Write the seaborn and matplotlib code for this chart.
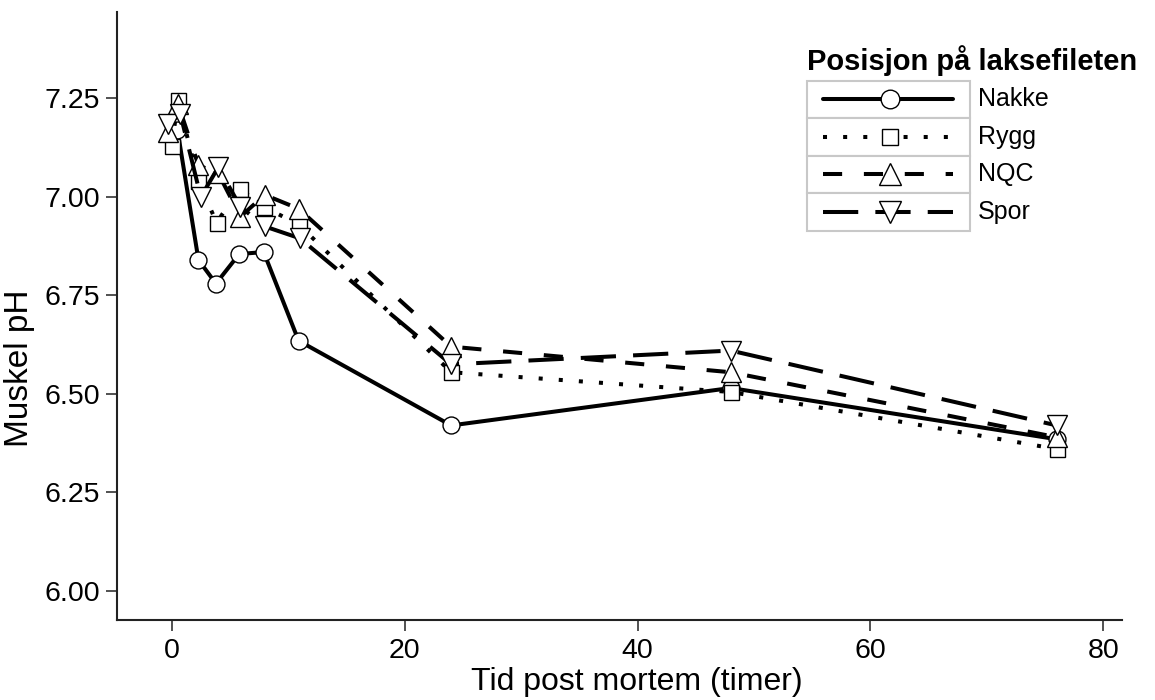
import matplotlib
matplotlib.use("Agg")
import matplotlib.pyplot as plt
from matplotlib.patches import Rectangle
from matplotlib.lines import Line2D
import seaborn as sns
import pandas as pd

# ---- data ----
series_names = ["Nakke", "Rygg", "NQC", "Spor"]

nakke_t = [0.5, 2.3, 3.8, 5.8, 7.9, 10.9, 24, 48, 76]
nakke_ph = [7.17, 6.84, 6.78, 6.855, 6.86, 6.635, 6.42, 6.515, 6.385]

rygg_t = [0.0, 0.55, 2.3, 3.85, 5.85, 7.9, 10.9, 24, 48, 76]
rygg_ph = [7.13, 7.245, 7.04, 6.935, 7.02, 6.975, 6.93, 6.555, 6.505, 6.36]

nqc_t = [-0.3, 0.55, 2.3, 4.0, 5.9, 8.0, 10.9, 24, 48, 76]
nqc_ph = [7.165, 7.235, 7.08, 7.06, 6.95, 7.005, 6.97, 6.62, 6.555, 6.39]

spor_t = [-0.35, 0.75, 2.5, 4.0, 5.9, 8.0, 11.0, 24, 48, 76]
spor_ph = [7.185, 7.21, 7.0, 7.075, 6.975, 6.925, 6.895, 6.575, 6.61, 6.42]

y_ticks = [6.00, 6.25, 6.50, 6.75, 7.00, 7.25]
x_ticks = [0, 20, 40, 60, 80]

legend_title = "Posisjon på laksefileten"
x_label = "Tid post mortem (timer)"
y_label = "Muskel pH"

# ---- styles ----
sns.set_style("ticks")
plt.rcParams["font.family"] = ["Liberation Sans", "DejaVu Sans"]
plt.rcParams["text.color"] = "black"
plt.rcParams["axes.labelcolor"] = "black"

W, H = 1155, 700
fig = plt.figure(figsize=(W / 100, H / 100), dpi=100)
ax = fig.add_axes([116.7 / W, 1 - 619.7 / H, (1122 - 116.7) / W, (619.7 - 11.7) / H])

lw = 2.9
styles = {
    "Nakke": dict(marker="o", ms=12.2, ls="-"),
    "Rygg": dict(marker="s", ms=10.8, ls=(0, (1, 4))),
    "NQC": dict(marker="^", ms=14.4, ls=(0, (4.75, 5.4))),
    "Spor": dict(marker="v", ms=14.4, ls=(0, (8.75, 4.25))),
}
data = {
    "Nakke": (nakke_t, nakke_ph),
    "Rygg": (rygg_t, rygg_ph),
    "NQC": (nqc_t, nqc_ph),
    "Spor": (spor_t, spor_ph),
}

for name in series_names:
    t, ph = data[name]
    df = pd.DataFrame({"t": t, "ph": ph})
    st = styles[name]
    sns.lineplot(data=df, x="t", y="ph", ax=ax, color="black", linewidth=lw,
                 linestyle=st["ls"], marker=st["marker"], markersize=st["ms"],
                 markerfacecolor="white", markeredgecolor="black",
                 markeredgewidth=1.0, dash_capstyle="butt", legend=False,
                 sort=False, estimator=None)

ax.set_xlim(-4.72, 81.6)
ax.set_ylim(5.927, 7.470)
ax.set_xticks(x_ticks)
ax.set_yticks(y_ticks)
ax.set_yticklabels([f"{v:.2f}" for v in y_ticks])
ax.tick_params(axis="both", direction="out", length=8, width=1.1, labelsize=20.5,
               color="#222222", labelcolor="black")
ax.tick_params(axis="x", pad=5)
ax.tick_params(axis="y", pad=4)
ax.set_xlabel(x_label, fontsize=23)
ax.set_ylabel(y_label, fontsize=24)
ax.xaxis.set_label_coords(0.5176, -0.077)
ax.yaxis.set_label_coords(-0.081, 0.414)
for s in ["top", "right"]:
    ax.spines[s].set_visible(False)
for s in ["left", "bottom"]:
    ax.spines[s].set_linewidth(1.5)
    ax.spines[s].set_color("#222222")

# ---- legend (drawn as figure decoration) ----
def fx(px):
    return px / W


def fy(py):
    return 1 - py / H


fig.text(fx(807), fy(61), legend_title, fontsize=21, fontweight="bold",
         ha="left", va="center")
row_top = 80.7
row_h = 37.5
box_l, box_r = 807, 970
for i, name in enumerate(series_names):
    top = row_top + i * row_h
    fig.add_artist(Rectangle((fx(box_l), fy(top + row_h)), fx(box_r) - fx(box_l),
                             (row_h) / H, transform=fig.transFigure,
                             facecolor="white", edgecolor="#c8c8c8", linewidth=1.5))
    cy = top + row_h / 2
    st = styles[name]
    fig.add_artist(Line2D([fx(823), fx(890), fx(953)], [fy(cy)] * 3,
                          transform=fig.transFigure, color="black", linewidth=lw,
                          linestyle=st["ls"], dash_capstyle="butt",
                          marker=st["marker"], markersize=st["ms"] * 1.1,
                          markevery=[1], markerfacecolor="white",
                          markeredgecolor="black", markeredgewidth=1.0))
    fig.text(fx(978), fy(cy), name, fontsize=18, ha="left", va="center")

fig.savefig("out.png", dpi=100)
